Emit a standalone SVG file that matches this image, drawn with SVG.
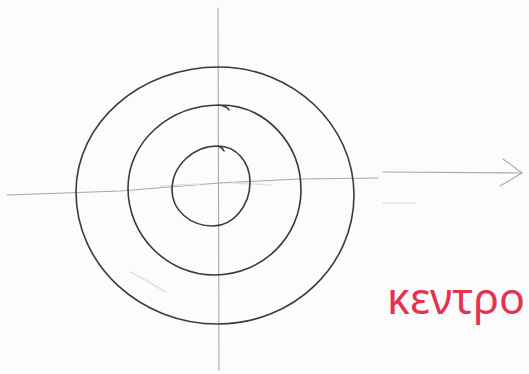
<svg xmlns="http://www.w3.org/2000/svg" width="529" height="374" viewBox="0 0 529 374">
  <style>
    .axis { fill: none; stroke: #a9a9a9; stroke-width: 1.1; stroke-linecap: round; }
    .faint { fill: none; stroke: #e2e2e2; stroke-width: 1.5; stroke-linecap: round; }
    .ring { fill: none; stroke: #3a3a3a; stroke-width: 1.6; stroke-linecap: round; stroke-linejoin: round; }
    .label { fill: #e5334f; font-family: "Noto Sans", "DejaVu Sans", sans-serif; font-size: 44px; }
  </style>
  <rect width="529" height="374" fill="#fcfcfc"/>
  <g id="axes">
    <path class="axis" d="M 218 8 L 219 370"/>
    <path class="axis" d="M 7 195 L 120 191 L 219 183 L 300 179 L 378 178"/>
    <path class="axis" d="M 383 172 L 522 173"/>
    <path class="axis" d="M 503 159 L 522 173 L 500 186" stroke="#777" stroke-width="1.5"/>
  </g>
  <g id="marks">
    <path class="faint" d="M 160 186 L 200 184"/>
    <path class="faint" d="M 232 183 L 272 185"/>
    <path class="faint" d="M 130 272 Q 148 281 166 292"/>
    <path class="faint" d="M 383 203 L 415 203"/>
  </g>
  <g id="outer-ring">
    <path class="ring" d="M 219 67 C 293 67 354 125 354 195 C 354 266 293 324 218 324 C 140 324 76 265 76 192 C 76 123 140 67 219 67"/>
  </g>
  <g id="middle-ring">
    <path class="ring" d="M 220 105 C 265 105 301 143 301 190 C 301 237 262 275 215 275 C 167 275 128 236 128 188 C 128 142 169 105 220 105 C 224 106 228 108 229 110"/>
  </g>
  <g id="inner-ring">
    <path class="ring" d="M 218 146 C 236 146 250 162 250 182 C 250 206 233 226 213 226 C 190 226 172 210 172 190 C 172 166 193 146 218 146 C 221 147 223 149 224 151"/>
  </g>
  <g id="label">
    <text class="label" x="387" y="314" textLength="138" lengthAdjust="spacingAndGlyphs">κεντρο</text>
  </g>
</svg>
